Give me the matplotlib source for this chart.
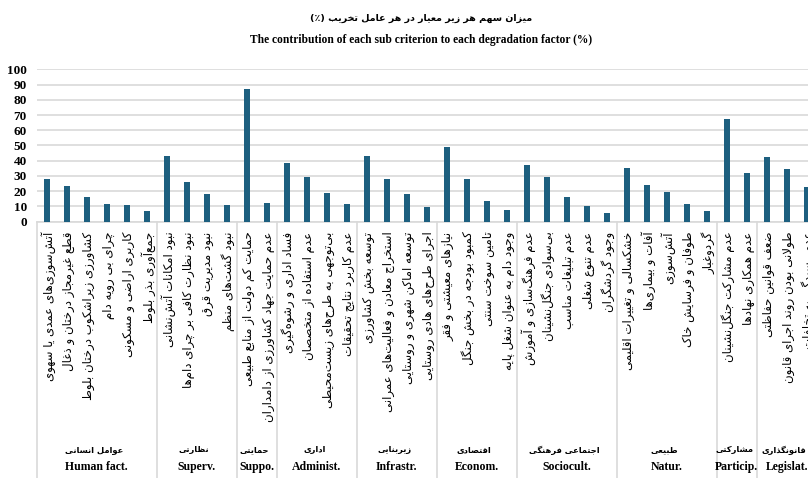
import matplotlib
matplotlib.use("Agg")
import matplotlib.pyplot as plt
import matplotlib.transforms as mtransforms

# ---- data ----
groups_en = ["Human fact.", "Superv.", "Suppo.", "Administ.", "Infrastr.",
             "Econom.", "Sociocult.", "Natur.", "Particip.", "Legislat."]
groups_fa = ["عوامل انسانی", "نظارتی", "حمایتی", "اداری", "زیربنایی",
             "اقتصادی", "اجتماعی فرهنگی", "طبیعی", "مشارکتی", "قانونگذاری"]
group_sizes = [6, 4, 2, 4, 4, 4, 5, 5, 2, 3]

criteria = [
    "آتش\u200cسوزی\u200cهای عمدی یا سهوی", "قطع غیرمجاز درختان و ذغال",
    "کشاورزی زیراشکوب درختان بلوط", "چرای بی رویه دام",
    "کاربری اراضی و مسکونی", "جمع\u200cآوری بذر بلوط",
    "نبود امکانات آتش\u200cنشانی", "نبود نظارت کافی بر چرای دام\u200cها",
    "نبود مدیریت قرق", "نبود گشت\u200cهای منظم",
    "حمایت کم دولت از منابع طبیعی", "عدم حمایت جهاد کشاورزی از دامداران",
    "فساد اداری و رشوه\u200cگیری", "عدم استفاده از متخصصان",
    "بی\u200cتوجهی به طرح\u200cهای زیست\u200cمحیطی", "عدم کاربرد نتایج تحقیقات",
    "توسعه بخش کشاورزی", "استخراج معادن و فعالیت\u200cهای عمرانی",
    "توسعه اماکن شهری و روستایی", "اجرای طرح\u200cهای هادی روستایی",
    "نیازهای معیشتی و فقر", "کمبود بودجه در بخش جنگل",
    "تامین سوخت سنتی", "وجود دام به عنوان شغل پایه",
    "عدم فرهنگ\u200cسازی و آموزش", "بی\u200cسوادی جنگل\u200cنشینان",
    "عدم تبلیغات مناسب", "عدم تنوع شغلی", "وجود گردشگران",
    "خشکسالی و تغییرات اقلیمی", "آفات و بیماری\u200cها", "آتش\u200cسوزی",
    "طوفان و فرسایش خاک", "گردوغبار",
    "عدم مشارکت جنگل\u200cنشینان", "عدم همکاری نهادها",
    "ضعف قوانین حفاظتی", "طولانی بودن روند اجرای قانون",
    "عدم رسیدگی به تخلفات",
]
values = [28.0, 23.5, 16.5, 11.6, 11.2, 6.8,
          43.3, 26.0, 18.0, 11.0,
          87.3, 12.3,
          38.7, 29.3, 18.8, 11.8,
          42.9, 27.8, 18.2, 9.9,
          48.8, 28.0, 13.8, 7.9,
          37.0, 29.3, 16.4, 10.1, 5.5,
          35.5, 24.3, 19.7, 11.8, 7.2,
          67.6, 32.2,
          42.2, 34.6, 23.0]

title_fa = "میزان سهم هر زیر معیار در هر عامل تخریب (٪)"
title_en = "The contribution of each sub criterion to each degradation factor (%)"

# ---- minimal arabic/persian shaping (matplotlib has no text shaping) ----
FORMS = {
    "ء": (0xFE80,), "آ": (0xFE81, 0xFE82), "أ": (0xFE83, 0xFE84),
    "ؤ": (0xFE85, 0xFE86), "إ": (0xFE87, 0xFE88),
    "ئ": (0xFE89, 0xFE8A, 0xFE8B, 0xFE8C), "ا": (0xFE8D, 0xFE8E),
    "ب": (0xFE8F, 0xFE90, 0xFE91, 0xFE92), "ة": (0xFE93, 0xFE94),
    "ت": (0xFE95, 0xFE96, 0xFE97, 0xFE98), "ث": (0xFE99, 0xFE9A, 0xFE9B, 0xFE9C),
    "ج": (0xFE9D, 0xFE9E, 0xFE9F, 0xFEA0), "ح": (0xFEA1, 0xFEA2, 0xFEA3, 0xFEA4),
    "خ": (0xFEA5, 0xFEA6, 0xFEA7, 0xFEA8), "د": (0xFEA9, 0xFEAA),
    "ذ": (0xFEAB, 0xFEAC), "ر": (0xFEAD, 0xFEAE), "ز": (0xFEAF, 0xFEB0),
    "س": (0xFEB1, 0xFEB2, 0xFEB3, 0xFEB4), "ش": (0xFEB5, 0xFEB6, 0xFEB7, 0xFEB8),
    "ص": (0xFEB9, 0xFEBA, 0xFEBB, 0xFEBC), "ض": (0xFEBD, 0xFEBE, 0xFEBF, 0xFEC0),
    "ط": (0xFEC1, 0xFEC2, 0xFEC3, 0xFEC4), "ظ": (0xFEC5, 0xFEC6, 0xFEC7, 0xFEC8),
    "ع": (0xFEC9, 0xFECA, 0xFECB, 0xFECC), "غ": (0xFECD, 0xFECE, 0xFECF, 0xFED0),
    "ف": (0xFED1, 0xFED2, 0xFED3, 0xFED4), "ق": (0xFED5, 0xFED6, 0xFED7, 0xFED8),
    "ل": (0xFEDD, 0xFEDE, 0xFEDF, 0xFEE0), "م": (0xFEE1, 0xFEE2, 0xFEE3, 0xFEE4),
    "ن": (0xFEE5, 0xFEE6, 0xFEE7, 0xFEE8), "ه": (0xFEE9, 0xFEEA, 0xFEEB, 0xFEEC),
    "و": (0xFEED, 0xFEEE),
    "پ": (0xFB56, 0xFB57, 0xFB58, 0xFB59), "چ": (0xFB7A, 0xFB7B, 0xFB7C, 0xFB7D),
    "ژ": (0xFB8A, 0xFB8B), "ک": (0xFB8E, 0xFB8F, 0xFB90, 0xFB91),
    "گ": (0xFB92, 0xFB93, 0xFB94, 0xFB95), "ی": (0xFBFC, 0xFBFD, 0xFBFE, 0xFBFF),
}
LAM_ALEF = {"ا": (0xFEFB, 0xFEFC), "آ": (0xFEF5, 0xFEF6),
            "أ": (0xFEF7, 0xFEF8), "إ": (0xFEF9, 0xFEFA)}
MIRROR = {"(": ")", ")": "("}


def fa(text):
    chars = list(text)
    out = []
    i = 0
    while i < len(chars):
        c = chars[i]
        if c not in FORMS:
            if c != "\u200c":
                out.append(MIRROR.get(c, c))
            i += 1
            continue
        prev = chars[i - 1] if i > 0 else None
        joins_prev = prev in FORMS and len(FORMS[prev]) == 4 and len(FORMS[c]) > 1
        nxt = chars[i + 1] if i + 1 < len(chars) else None
        if c == "ل" and nxt in LAM_ALEF:
            out.append(chr(LAM_ALEF[nxt][1 if joins_prev else 0]))
            i += 2
            continue
        f = FORMS[c]
        joins_next = len(f) == 4 and nxt in FORMS and len(FORMS[nxt]) > 1
        if len(f) == 1:
            g = f[0]
        elif joins_prev and joins_next:
            g = f[3]
        elif joins_prev:
            g = f[1]
        elif joins_next:
            g = f[2]
        else:
            g = f[0]
        out.append(chr(g))
        i += 1
    return "".join(out[::-1])


# ---- plot ----
bar_color = "#1d5f7f"
grid_color = "#d9d9d9"
x = list(range(len(values)))

fig = plt.figure(figsize=(8.08, 4.78), dpi=100)
ax = fig.add_axes([36.7 / 808, 1 - 221.7 / 478, 780 / 808, 152.4 / 478])

ax.bar(x, values, width=0.3, color=bar_color, zorder=3)
ax.set_xlim(-0.5, len(values) - 0.5)
ax.set_ylim(0, 100)
ax.set_yticks(range(0, 101, 10))
ax.yaxis.grid(True, color=grid_color, linewidth=1.2, zorder=0)
for s in ["top", "right", "left"]:
    ax.spines[s].set_visible(False)
ax.spines["bottom"].set_color(grid_color)
ax.spines["bottom"].set_linewidth(1.2)
ax.tick_params(axis="y", length=0, pad=7)
ax.tick_params(axis="x", length=0)
ax.set_xticks([])
for lab in ax.get_yticklabels():
    lab.set_fontfamily("Liberation Serif")
    lab.set_fontweight("bold")
    lab.set_fontsize(9.5)

trans = mtransforms.blended_transform_factory(ax.transData, ax.transAxes)

# criterion labels, vertical
for xi, name in zip(x, criteria):
    ax.text(xi + 0.08, -0.065, fa(name), transform=trans, rotation=90,
            ha="center", va="top", fontsize=8.5, family="DejaVu Sans")

# group separators and labels
bottom = -256.3 / 152.4
start = 0
bounds = [-0.5]
for size, en, fa_name in zip(group_sizes, groups_en, groups_fa):
    end = start + size
    center = (start + end - 1) / 2
    ax.text(center - 0.12, -(450 - 221.7) / 152.4, fa(fa_name), transform=trans,
            ha="center", va="center", fontsize=6.0, fontweight="bold",
            family="DejaVu Sans")
    ax.text(center, -(467 - 221.7) / 152.4, en, transform=trans,
            ha="center", va="center", fontsize=8.5, fontweight="bold",
            family="Liberation Serif")
    bounds.append(end - 0.5)
    start = end

for b in bounds:
    ax.plot([b, b], [0, bottom], transform=trans, color=grid_color,
            linewidth=1.2, clip_on=False)

fig.text(421 / 808, 1 - 18 / 478, fa(title_fa), ha="center", va="center",
         fontsize=6.8, fontweight="bold", family="DejaVu Sans")
fig.text(421 / 808, 1 - 40 / 478, title_en, ha="center", va="center",
         fontsize=8.3, fontweight="bold", family="Liberation Serif")

fig.savefig("out.png", dpi=100)
